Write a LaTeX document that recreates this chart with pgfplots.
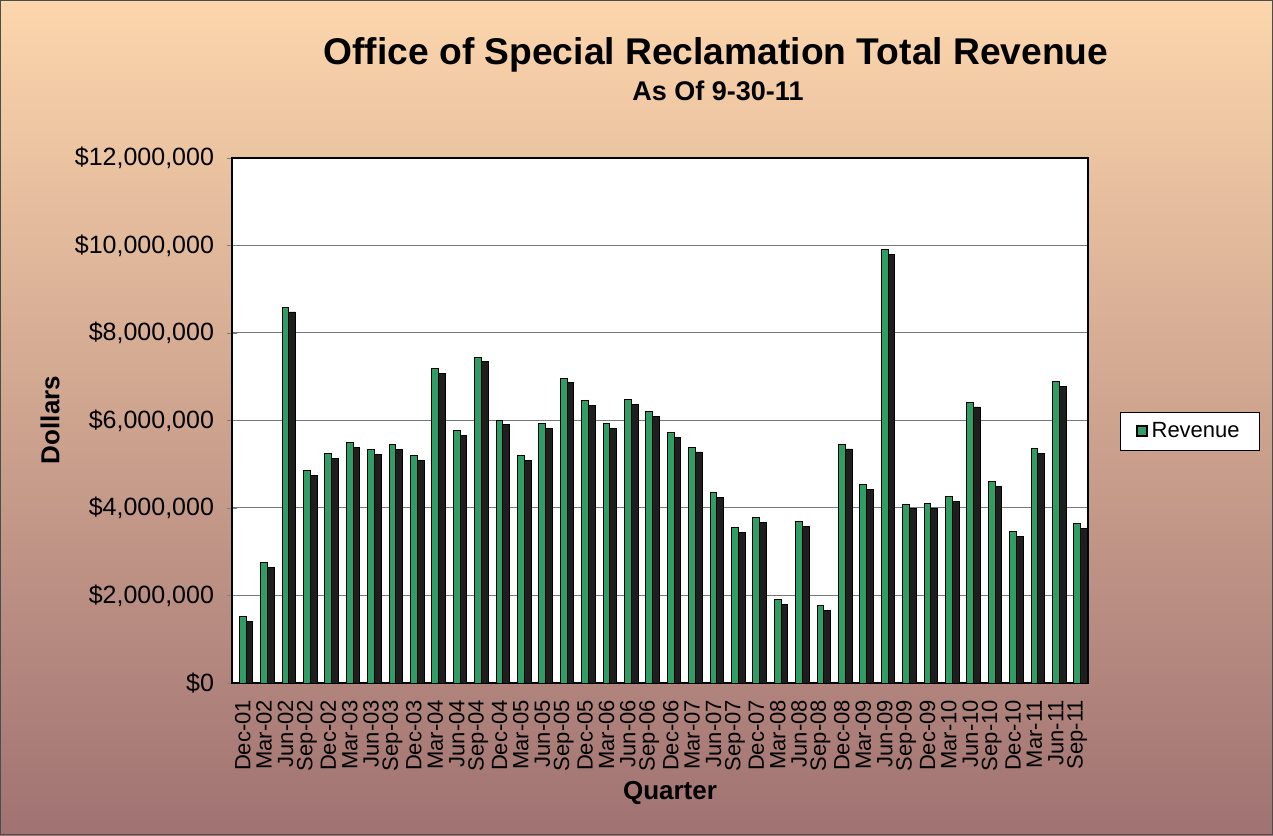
\documentclass[border=0pt]{standalone}
\usepackage{pgfplots}
\pgfplotsset{compat=1.18}
\usepackage{pgfplotstable}
\usepackage{fontspec}
\setmainfont{Liberation Sans}

\definecolor{bgtop}{RGB}{252,214,172}
\definecolor{bgmid}{RGB}{237,172,140}
\definecolor{bgbot}{RGB}{160,114,114}
\definecolor{barfront}{RGB}{46,158,100}
\definecolor{barside}{RGB}{30,30,30}
\definecolor{gridgray}{RGB}{120,120,120}

% quarterly revenue, dollars
\pgfplotstableread{
q v
Dec-01 1520000
Mar-02 2760000
Jun-02 8590000
Sep-02 4850000
Dec-02 5240000
Mar-03 5490000
Jun-03 5340000
Sep-03 5450000
Dec-03 5200000
Mar-04 7180000
Jun-04 5770000
Sep-04 7450000
Dec-04 6010000
Mar-05 5200000
Jun-05 5930000
Sep-05 6970000
Dec-05 6450000
Mar-06 5930000
Jun-06 6480000
Sep-06 6210000
Dec-06 5720000
Mar-07 5390000
Jun-07 4350000
Sep-07 3560000
Dec-07 3780000
Mar-08 1900000
Jun-08 3680000
Sep-08 1770000
Dec-08 5460000
Mar-09 4530000
Jun-09 9910000
Sep-09 4090000
Dec-09 4100000
Mar-10 4260000
Jun-10 6420000
Sep-10 4610000
Dec-10 3460000
Mar-11 5350000
Jun-11 6880000
Sep-11 3640000
}\revenue

\begin{document}
\begin{tikzpicture}
\useasboundingbox (0,0) rectangle (636.5pt,417.5pt);
\shade[top color=bgtop, middle color=bgmid, bottom color=bgbot] (0,0) rectangle (636.5pt,417.5pt);
\draw[gray!60!black, line width=0.6pt] (0.3pt,0.3pt) rectangle (636.2pt,417.2pt);

\node[font=\bfseries\fontsize{18.6}{20}\selectfont] at (358pt,390pt) {Office of Special Reclamation Total Revenue};
\node[font=\bfseries\fontsize{13.5}{15}\selectfont] at (359pt,372pt) {As Of 9-30-11};
\node[font=\bfseries\fontsize{13}{15}\selectfont, rotate=90] at (25pt,207.5pt) {Dollars};
\node[font=\bfseries\fontsize{13}{15}\selectfont] at (335pt,21pt) {Quarter};

\begin{axis}[
    at={(116pt,76pt)}, anchor=south west,
    scale only axis,
    width=428pt, height=262.5pt,
    axis background/.style={fill=white},
    axis line style={black, line width=0.6pt},
    xmin=-0.5, xmax=39.5,
    ymin=0, ymax=12000000,
    ytick={0,2000000,4000000,6000000,8000000,10000000,12000000},
    ytick pos=left,
    scaled y ticks=false,
    yticklabel={\$\pgfmathprintnumber[fixed,precision=0,1000 sep={,}]{\tick}},
    /pgf/number format/assume math mode=true,
    xtick=data,
    xtick pos=bottom,
    xticklabels from table={\revenue}{q},
    x tick label style={rotate=90, anchor=east, font=\fontsize{11}{13}\selectfont},
    y tick label style={font=\fontsize{12.5}{14}\selectfont, xshift=-3pt},
    minor x tick num=1,
    tick align=center,
    major tick length=5pt,
    minor tick length=4pt,
    xtick style={draw=none},
    minor tick style={black!70},
    ymajorgrids=true,
    grid style={gridgray, line width=0.5pt},
    ybar, bar width=3.4pt,
    legend style={at={(1.0374,0.48)}, anchor=west, draw=black, fill=white,
        font=\fontsize{11}{13}\selectfont, inner xsep=8pt, inner ysep=3pt,
        legend cell align=left},
    legend image code/.code={\draw[fill=barfront, draw=black, line width=0.6pt] (0pt,-2.5pt) rectangle (5pt,2.5pt);},
]
\addplot[fill=barside, draw=black, line width=0.4pt, bar shift=3.3pt, forget plot]
    table[x expr=\coordindex, y expr=\thisrow{v}-110000] {\revenue};
\addplot[fill=barfront, draw=black, line width=0.5pt, bar shift=0pt]
    table[x expr=\coordindex, y=v] {\revenue};
\addlegendentry{Revenue}
\end{axis}
\end{tikzpicture}
\end{document}
